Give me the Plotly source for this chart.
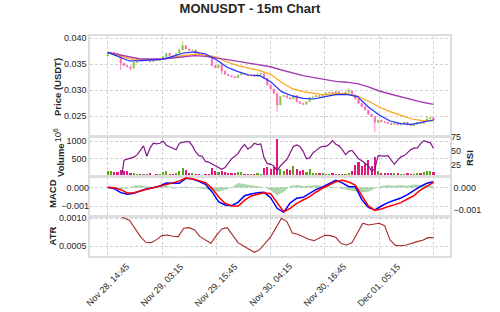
import plotly.graph_objects as go

# ---------------- data (bar index = 15-minute candles) ----------------
tick_idx = [0, 50, 100, 150, 200, 250, 300]
tick_labels = ["Nov 28, 14:45", "Nov 29, 03:15", "Nov 29, 15:45",
               "Nov 30, 04:15", "Nov 30, 16:45", "Dec 01, 05:15", ""]

candle_idx = list(range(0, 301, 3))
close = [
    0.03711, 0.03730, 0.03711, 0.03679, 0.03519, 0.03474, 0.03455, 0.03423, 0.03538, 0.03576,
    0.03564, 0.03583, 0.03570, 0.03551, 0.03589, 0.03576, 0.03602, 0.03647, 0.03711, 0.03666,
    0.03640, 0.03711, 0.03775, 0.03858, 0.03794, 0.03769, 0.03775, 0.03711, 0.03692, 0.03679,
    0.03666, 0.03660, 0.03474, 0.03435, 0.03487, 0.03371, 0.03307, 0.03282, 0.03262, 0.03243,
    0.03294, 0.03320, 0.03307, 0.03282, 0.03294, 0.03269, 0.03307, 0.03320, 0.03230, 0.03102,
    0.03025, 0.02942, 0.02717, 0.02878, 0.02897, 0.02858, 0.02833, 0.02897, 0.02781, 0.02749,
    0.02730, 0.02781, 0.02858, 0.02871, 0.02897, 0.02884, 0.02922, 0.02948, 0.02961, 0.02942,
    0.02974, 0.02948, 0.02935, 0.02961, 0.02987, 0.02910, 0.02833, 0.02749, 0.02685, 0.02621,
    0.02538, 0.02493, 0.02384, 0.02429, 0.02397, 0.02384, 0.02365, 0.02346, 0.02371, 0.02333,
    0.02346, 0.02384, 0.02333, 0.02320, 0.02346, 0.02384, 0.02365, 0.02410, 0.02448, 0.02474,
    0.02429,
]
first_open = 0.03660
wick_high = {66: 0.03810, 69: 0.03935, 222: 0.03040, 294: 0.02510}
wick_low = {12: 0.03390, 21: 0.03380, 105: 0.03300, 156: 0.02590, 246: 0.02200}

volume_m = [
    150, 130, 110, 120, 160, 140, 150, 90, 80, 60,
    70, 50, 60, 80, 40, 50, 60, 120, 140, 60,
    50, 80, 150, 230, 160, 100, 90, 60, 50, 40,
    60, 50, 220, 150, 120, 130, 110, 90, 80, 100,
    120, 110, 70, 60, 50, 60, 80, 70, 220, 260,
    200, 250, 1080, 200, 150, 200, 180, 300, 200, 150,
    180, 120, 200, 100, 80, 90, 80, 60, 60, 80,
    60, 50, 70, 60, 80, 130, 320, 400, 300, 350,
    460, 280, 560, 150, 100, 90, 80, 100, 90, 80,
    60, 70, 80, 60, 70, 90, 100, 110, 140, 150,
    120,
]

ema_idx = list(range(0, 301, 10))
ema_fast = [0.03730, 0.03640, 0.03564, 0.03570, 0.03583, 0.03596, 0.03653, 0.03717, 0.03737, 0.03698,
            0.03589, 0.03442, 0.03358, 0.03294, 0.03281, 0.03166, 0.02974, 0.02891, 0.02846, 0.02833,
            0.02878, 0.02916, 0.02922, 0.02878, 0.02679, 0.02525, 0.02410, 0.02358, 0.02346, 0.02384,
            0.02429]
ema_mid = [0.03730, 0.03666, 0.03608, 0.03583, 0.03589, 0.03596, 0.03634, 0.03673, 0.03692, 0.03679,
           0.03640, 0.03544, 0.03474, 0.03423, 0.03378, 0.03307, 0.03153, 0.03031, 0.02974, 0.02942,
           0.02910, 0.02935, 0.02935, 0.02891, 0.02794, 0.02679, 0.02589, 0.02519, 0.02448, 0.02416,
           0.02410]
ema_slow = [0.03730, 0.03692, 0.03647, 0.03602, 0.03602, 0.03602, 0.03621, 0.03640, 0.03666, 0.03653,
            0.03628, 0.03589, 0.03557, 0.03519, 0.03487, 0.03452, 0.03390, 0.03333, 0.03281, 0.03243,
            0.03205, 0.03172, 0.03156, 0.03128, 0.03066, 0.02987, 0.02929, 0.02871, 0.02820, 0.02769,
            0.02730]

rsi_idx = [13] + list(range(15, 301, 3))
rsi = [5.6,
       33.7, 35.5, 37.2, 39.0, 43.1, 51.3, 59.5, 40.7, 55.4, 64.2,
       63.0, 64.2, 68.3, 60.7, 58.4, 56.0, 52.5, 64.2, 66.0, 67.2,
       67.2, 59.5, 48.4, 41.9, 40.8, 31.4, 30.2, 26.7, 23.1, 20.2,
       17.3, 20.2, 29.0, 36.0, 40.7, 45.4, 55.4, 61.9, 53.7, 57.2,
       64.2, 61.9, 63.1, 37.8, 27.3, 26.1, 23.1, 14.3, 23.1, 29.0,
       34.9, 46.6, 58.4, 61.3, 58.4, 49.6, 36.1, 37.8, 46.6, 51.3,
       56.0, 58.4, 58.4, 62.5, 68.9, 62.5, 59.5, 52.5, 43.7, 49.6,
       51.3, 43.7, 36.1, 32.5, 27.8, 23.1, 14.3, 17.3, 41.9, 40.8,
       40.8, 41.9, 33.7, 26.1, 33.7, 39.6, 41.9, 47.8, 52.5, 55.4,
       55.4, 63.1, 68.9, 66.6, 65.4, 55.4]

macd_idx = list(range(0, 301, 6))
macd = [0.00002, -0.000052, -0.000267, -0.000357, -0.000303, -0.000195, -0.000052, 0.000002, 0.000091, 0.000253,
        0.000230, 0.000235, 0.000504, 0.000468, 0.000342, 0.000181, -0.000213, -0.000751, -0.000930, -0.000966,
        -0.000787, -0.000428, -0.000339, -0.000267, -0.000249, -0.000536, -0.001109, -0.001324, -0.000820, -0.000572,
        -0.000518, -0.000321, -0.000088, 0.000038, 0.000217, 0.000396, 0.000262, 0.000056, 0.000056, -0.000643,
        -0.001056, -0.001199, -0.000984, -0.000805, -0.000679, -0.000554, -0.000375, -0.000159, 0.000073, 0.000235,
        0.000324]
signal = [0.00002, 0.0, -0.000106, -0.000285, -0.000267, -0.000195, -0.000088, 0.0, 0.000073, 0.000163,
          0.000260, 0.000367, 0.000522, 0.000486, 0.000396, 0.000271, -0.000034, -0.000482, -0.000840, -0.000966,
          -0.001002, -0.000679, -0.000446, -0.000339, -0.000267, -0.000321, -0.000840, -0.001289, -0.001109, -0.000840,
          -0.000661, -0.000482, -0.000231, -0.000016, 0.000145, 0.000324, 0.000396, 0.000306, 0.000145, -0.000392,
          -0.000984, -0.001217, -0.001145, -0.001020, -0.000930, -0.000805, -0.000608, -0.000428, -0.000124, 0.000073,
          0.000289]
hist = [0.0, -0.00001, -0.00007, -0.00004, 0.00008, 0.00010, 0.00005, 0.00002, 0.00004, 0.00011,
        -0.00007, 0.00002, 0.00005, 0.00001, -0.00005, -0.00008, -0.00013, -0.00019, -0.00010, -0.00001,
        0.00020, 0.00014, 0.00010, 0.00007, 0.00001, -0.00013, -0.00035, -0.00020, 0.00007, 0.00011,
        0.00007, 0.00008, 0.00011, 0.00007, 0.00004, 0.00002, -0.00007, -0.00011, -0.00016, -0.00022,
        -0.00019, -0.00004, 0.00007, 0.00011, 0.00008, 0.00011, 0.00008, 0.00014, 0.00011, 0.00011,
        0.00007]

atr_idx = [13] + list(range(15, 301, 5))
atr = [0.001012,
       0.001006, 0.000964, 0.000819, 0.000675, 0.000567, 0.000561, 0.000615, 0.000687, 0.000699, 0.000675,
       0.000669, 0.000819, 0.000831, 0.000789, 0.000669, 0.000603, 0.000549, 0.000687, 0.000807, 0.000831,
       0.000699, 0.000561, 0.000500, 0.000446, 0.000386, 0.000434, 0.000555, 0.000663, 0.000831, 0.001000,
       0.000940, 0.000735, 0.000711, 0.000669, 0.000621, 0.000597, 0.000639, 0.000693, 0.000687, 0.000657,
       0.000543, 0.000518, 0.000561, 0.000747, 0.000910, 0.000879, 0.000897, 0.000910, 0.000867, 0.000609,
       0.000512, 0.000506, 0.000518, 0.000555, 0.000579, 0.000603, 0.000651, 0.000651]

# ---------------- derived candle fields ----------------
opens = [first_open] + close[:-1]
highs = [max(o, c) for o, c in zip(opens, close)]
lows = [min(o, c) for o, c in zip(opens, close)]
for k, i in enumerate(candle_idx):
    if i in wick_high:
        highs[k] = wick_high[i]
    if i in wick_low:
        lows[k] = wick_low[i]

C_UP = "#8cc63f"
C_DN = "#ff66b0"
V_UP = "#62a51a"
V_DN = "#e3177c"
vol_colors = [V_UP if c >= o else V_DN for o, c in zip(opens, close)]

FONT = "Liberation Sans"
TXT = "#262626"
GRID = "#d3d3d3"
EDGE = "#dedede"

fig = go.Figure()

fig.add_trace(go.Candlestick(
    x=candle_idx, open=opens, high=highs, low=lows, close=close,
    increasing=dict(line=dict(color=C_UP, width=0.8), fillcolor=C_UP),
    decreasing=dict(line=dict(color=C_DN, width=0.8), fillcolor=C_DN),
    whiskerwidth=0, xaxis="x", yaxis="y", showlegend=False))
fig.add_trace(go.Scatter(x=ema_idx, y=ema_mid, mode="lines", line=dict(color="#ffa31a", width=1.2),
                         xaxis="x", yaxis="y", showlegend=False))
fig.add_trace(go.Scatter(x=ema_idx, y=ema_slow, mode="lines", line=dict(color="#a13fb0", width=1.4),
                         xaxis="x", yaxis="y", showlegend=False))
fig.add_trace(go.Scatter(x=ema_idx, y=ema_fast, mode="lines", line=dict(color="#1f2fff", width=1.2),
                         xaxis="x", yaxis="y", showlegend=False))

fig.add_trace(go.Bar(x=candle_idx, y=volume_m, marker=dict(color=vol_colors, line=dict(width=0)),
                     width=2.0, xaxis="x2", yaxis="y2", showlegend=False))
fig.add_trace(go.Scatter(x=rsi_idx, y=rsi, mode="lines", line=dict(color="#85158a", width=1.2),
                         xaxis="x2", yaxis="y3", showlegend=False))

fig.add_trace(go.Scatter(x=macd_idx, y=hist, mode="lines", fill="tozeroy",
                         fillcolor="rgba(90,175,90,0.5)", line=dict(width=0, color="rgba(0,0,0,0)"),
                         xaxis="x3", yaxis="y4", showlegend=False))
fig.add_trace(go.Scatter(x=macd_idx, y=macd, mode="lines", line=dict(color="#0000ff", width=1.5),
                         xaxis="x3", yaxis="y5", showlegend=False))
fig.add_trace(go.Scatter(x=macd_idx, y=signal, mode="lines", line=dict(color="#ff0000", width=1.5),
                         xaxis="x3", yaxis="y5", showlegend=False))

fig.add_trace(go.Scatter(x=atr_idx, y=atr, mode="lines", line=dict(color="#a52a2a", width=1.1),
                         xaxis="x4", yaxis="y6", showlegend=False))

xcommon = dict(range=[-16.3, 315.2], tickvals=tick_idx, showticklabels=False, ticks="",
               showgrid=True, gridcolor=GRID, griddash="3px,2px", gridwidth=0.8, zeroline=False,
               showline=True, mirror=True, linecolor=EDGE, linewidth=1.5)
tickfont = dict(family=FONT, size=9, color=TXT)
ycommon = dict(ticks="", tickfont=tickfont, zeroline=False, showline=True, mirror=True,
               linecolor=EDGE, linewidth=1.5, showgrid=True, gridcolor=GRID,
               griddash="3px,2px", gridwidth=0.8)

fig.update_layout(
    width=500, height=312,
    margin=dict(l=90, r=50, t=36, b=56),
    paper_bgcolor="white", plot_bgcolor="white",
    bargap=0, boxgap=0.45,
    xaxis=dict(anchor="y", rangeslider=dict(visible=False), **xcommon),
    xaxis2=dict(anchor="y2", **xcommon),
    xaxis3=dict(anchor="y4", **xcommon),
    xaxis4=dict(anchor="y6", **xcommon),
    yaxis=dict(domain=[0.5455, 1.0], range=[0.021212, 0.040442],
               tickvals=[0.025, 0.030, 0.035, 0.040], ticktext=["0.025", "0.030", "0.035", "0.040"],
               **ycommon),
    yaxis2=dict(domain=[0.3636, 0.5409], range=[0, 1124], tickvals=[500, 1000],
                ticktext=["500", "1000"], **ycommon),
    yaxis3=dict(overlaying="y2", side="right", anchor="x2", range=[5, 75.5], tickvals=[25, 50, 75],
                ticktext=["25", "50", "75"], ticks="", tickfont=tickfont, showgrid=False,
                zeroline=False, showline=False),
    yaxis4=dict(domain=[0.1818, 0.3591], side="right", range=[-0.001295, 0.000477],
                tickvals=[-0.001, 0.0], ticktext=["\u22120.001", "0.000"], ticks="", tickfont=tickfont,
                zeroline=False, showline=True, mirror=True, linecolor=EDGE, linewidth=1.5,
                showgrid=False),
    yaxis5=dict(overlaying="y4", side="left", anchor="x3", range=[-0.001522, 0.000575],
                tickvals=[-0.001, 0.0], ticktext=["\u22120.001", "0.000"], ticks="", tickfont=tickfont,
                zeroline=False, showline=False, showgrid=True, gridcolor=GRID,
                griddash="3px,2px", gridwidth=0.8),
    yaxis6=dict(domain=[0.0, 0.1773], range=[0.00032, 0.001023], tickvals=[0.0005, 0.0010],
                ticktext=["0.0005", "0.0010"], **ycommon),
    title=dict(text="<b>MONUSDT - 15m Chart</b>", x=0.5, xref="container", xanchor="center",
               y=1 - 8.0 / 312, yref="container", yanchor="middle",
               font=dict(family=FONT, size=13, color=TXT)),
)

ann = []
lab = dict(family=FONT, size=9.5, color=TXT)


def ylab(text, px, py, angle=-90):
    ann.append(dict(text=text, xref="paper", yref="paper", x=(px - 90) / 360.0, y=(256 - py) / 220.0,
                    xanchor="center", yanchor="middle", showarrow=False, textangle=angle,
                    font=lab))


ylab("<b>Price (USDT)</b>", 57, 87)
ylab("<b>Volume</b>", 60, 160)
ylab("10<sup>6</sup>", 57.5, 135)
ylab("<b>MACD</b>", 52, 194)
ylab("<b>ATR</b>", 52, 236.5)
ylab("<b>RSI</b>", 469.5, 158.5)

for i, t in zip(tick_idx, tick_labels):
    if t:
        ann.append(dict(text=t, xref="x4", yref="paper", x=i, y=-3 / 220.0, xanchor="center",
                        yanchor="top", showarrow=False, textangle=-45,
                        font=dict(family=FONT, size=9, color=TXT)))

fig.update_layout(annotations=ann)
fig.write_html("out.html")
